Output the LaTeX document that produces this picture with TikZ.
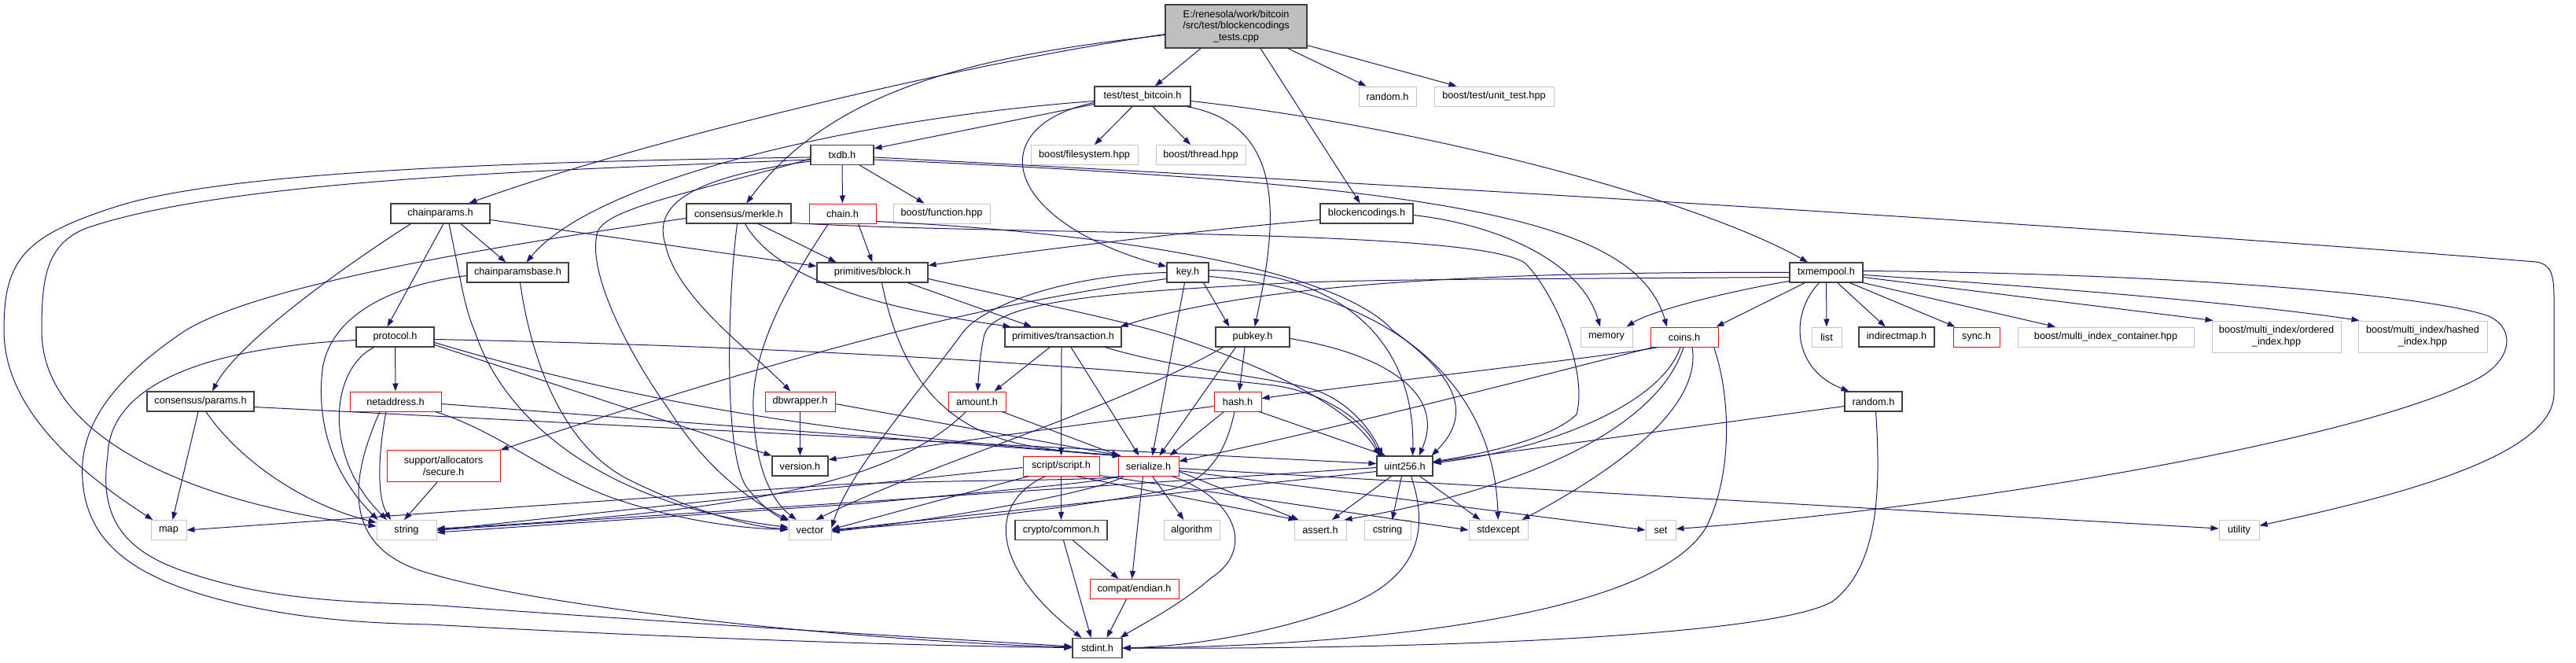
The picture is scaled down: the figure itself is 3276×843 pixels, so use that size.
\documentclass[tikz,border=0pt]{standalone}
\usepackage{fontspec}
\setmainfont{Liberation Sans}
\usetikzlibrary{arrows.meta,calc}
\definecolor{edgec}{HTML}{191970}
\definecolor{boxgray}{HTML}{C4C4C4}
\definecolor{boxdark}{HTML}{404040}
\definecolor{rootfill}{HTML}{BFBFBF}
\tikzset{
 bx/.style={rectangle, inner sep=0pt, minimum height=25pt, line width=1pt, fill=white, font=\fontsize{12.7}{14.6}\selectfont, align=center},
 nb/.style={bx, draw=boxdark, line width=1.2pt},
 gb/.style={bx, draw=boxgray},
 rb/.style={bx, draw=red},
 ed/.style={draw=edgec, line width=1pt, -{Triangle[length=10pt,width=7pt]}},
}
\begin{document}
\begin{tikzpicture}[x=1pt,y=-1pt]
\useasboundingbox (0,0) rectangle (3276,843);
% nodes
\node[nb, fill=rootfill, minimum width=180pt, minimum height=55pt] (root) at (1572,33.5) {E:/renesola/work/bitcoin\\/src/test/blockencodings\\\_tests.cpp};
\node[nb, minimum width=122pt] (tb) at (1453,122.5) {test/test\_bitcoin.h};
\node[gb, minimum width=73pt] (rnd1) at (1764.5,122.5) {random.h};
\node[gb, minimum width=152pt] (but) at (1900,122.5) {boost/test/unit\_test.hpp};
\node[gb, minimum width=136pt] (fs) at (1379,197) {boost/filesystem.hpp};
\node[gb, minimum width=114pt] (thr) at (1527,197) {boost/thread.hpp};
\node[nb, minimum width=80pt] (txdb) at (1071,197) {txdb.h};
\node[gb, minimum width=123pt] (bfun) at (1197.5,271.5) {boost/function.hpp};
\node[rb, minimum width=85pt] (chain) at (1071.5,271.5) {chain.h};
\node[nb, minimum width=126pt] (cp) at (560,271.5) {chainparams.h};
\node[nb, minimum width=133pt] (merkle) at (939.5,271.5) {consensus/merkle.h};
\node[nb, minimum width=118pt] (benc) at (1738,271.5) {blockencodings.h};
\node[nb, minimum width=129pt] (cpb) at (658.5,346.5) {chainparamsbase.h};
\node[nb, minimum width=141pt] (blk) at (1109.5,346.5) {primitives/block.h};
\node[nb, minimum width=53pt] (key) at (1510.5,346.5) {key.h};
\node[nb, minimum width=93pt] (txm) at (2322.5,346.5) {txmempool.h};
\node[nb, minimum width=99pt] (proto) at (502.5,428.5) {protocol.h};
\node[nb, minimum width=148pt] (tx) at (1352,428.5) {primitives/transaction.h};
\node[nb, minimum width=94pt] (pub) at (1593,428.5) {pubkey.h};
\node[gb, minimum width=66pt] (mem) at (2043,428.5) {memory};
\node[rb, minimum width=86pt] (coins) at (2142,428.5) {coins.h};
\node[gb, minimum width=38pt] (list) at (2323,428.5) {list};
\node[nb, minimum width=96pt] (imap) at (2412,428.5) {indirectmap.h};
\node[rb, minimum width=59pt] (sync) at (2513.5,428.5) {sync.h};
\node[gb, minimum width=224pt] (mic) at (2678,428.5) {boost/multi\_index\_container.hpp};
\node[gb, minimum width=164pt, minimum height=40pt] (moi) at (2895,428) {boost/multi\_index/ordered\\\_index.hpp};
\node[gb, minimum width=164pt, minimum height=40pt] (mhi) at (3081,428) {boost/multi\_index/hashed\\\_index.hpp};
\node[nb, minimum width=136pt] (cparams) at (255,510.5) {consensus/params.h};
\node[rb, minimum width=116pt] (netaddr) at (503,510.5) {netaddress.h};
\node[rb, minimum width=89pt] (dbw) at (1017.5,510.5) {dbwrapper.h};
\node[rb, minimum width=73pt] (amount) at (1242.5,510.5) {amount.h};
\node[rb, minimum width=60pt] (hash) at (1574,510.5) {hash.h};
\node[nb, minimum width=73pt] (rnd2) at (2382.5,510.5) {random.h};
\node[rb, minimum width=144pt, minimum height=40pt] (secure) at (564,592.7) {support/allocators\\/secure.h};
\node[nb, minimum width=71pt] (ver) at (1017.5,592.5) {version.h};
\node[rb, minimum width=97pt] (script) at (1349.5,592.5) {script/script.h};
\node[rb, minimum width=77pt] (ser) at (1460.5,592.5) {serialize.h};
\node[nb, minimum width=71pt] (u256) at (1786.5,592.5) {uint256.h};
\node[gb, minimum width=45pt] (map) at (214.5,674) {map};
\node[gb, minimum width=76pt] (string) at (517,674) {string};
\node[gb, minimum width=54pt] (vector) at (1030,674) {vector};
\node[nb, minimum width=117pt] (ccommon) at (1349.5,674) {crypto/common.h};
\node[gb, minimum width=71pt] (algo) at (1515.5,674) {algorithm};
\node[gb, minimum width=66pt] (assert) at (1679,674) {assert.h};
\node[gb, minimum width=59pt] (cstring) at (1764.5,674) {cstring};
\node[gb, minimum width=75pt] (stdexc) at (1905.5,674) {stdexcept};
\node[gb, minimum width=38pt] (set) at (2112,674) {set};
\node[gb, minimum width=51pt] (utility) at (2847.5,674) {utility};
\node[rb, minimum width=113pt] (endian) at (1442.5,749) {compat/endian.h};
\node[nb, minimum width=63pt] (stdint) at (1395.5,824) {stdint.h};
% root
\draw[ed] ($(root.south)+(-45,0)$) -- (tb);
\draw[ed] ($(root.west)+(0,11)$) .. controls (1250,70) and (1060,110) .. (merkle);
\draw[ed] ($(root.west)+(0,10)$) .. controls (1200,85) and (800,185) .. (cp);
\draw[ed] ($(root.south)+(31,0)$) -- (benc);
\draw[ed] ($(root.south)+(66,0)$) -- (rnd1);
\draw[ed] ($(root.south east)+(0,-4)$) -- (but);
% test_bitcoin
\draw[ed] ($(tb.west)+(0,10)$) -- (txdb);
\draw[ed] ($(tb.west)+(0,6)$) .. controls (1100,150) and (760,225) .. (cpb);
\draw[ed] ($(tb.west)+(0,8)$) .. controls (1250,160) and (1270,280) .. (key);
\draw[ed] ($(tb.south east)+(-5,0)$) .. controls (1645,160) and (1620,300) .. (pub);
\draw[ed] ($(tb.east)+(0,6)$) .. controls (1800,160) and (2150,250) .. (txm);
\draw[ed] (tb) -- (fs);
\draw[ed] (tb) -- (thr);
% txdb
\draw[ed] (txdb) -- (chain);
\draw[ed] (txdb) -- (bfun);
\draw[ed] ($(txdb.west)+(0,3)$) .. controls (700,205) and (300,215) .. (150,262) .. controls (30,300) and (5,330) .. (5,420) .. controls (5,520) and (100,600) .. (map);
\draw[ed] ($(txdb.west)+(0,6)$) .. controls (750,215) and (300,225) .. (110,290) .. controls (60,310) and (53,350) .. (53,420) .. controls (53,560) and (250,640) .. (string);
\draw[ed] ($(txdb.east)+(0,3)$) .. controls (1800,235) and (2700,290) .. (3225,333) .. controls (3245,336) and (3248,350) .. (3248,380) -- (3248,500) .. controls (3248,580) and (3050,630) .. (utility);
\draw[ed] ($(txdb.east)+(0,6)$) .. controls (1850,235) and (2080,280) .. ($(coins.north)+(-22,0)$);
\draw[ed] ($(txdb.west)+(0,8)$) .. controls (880,225) and (830,260) .. (846,310) .. controls (860,380) and (960,450) .. (dbw);
\draw[ed] ($(txdb.west)+(0,5)$) .. controls (880,245) and (770,265) .. (760,295) .. controls (745,345) and (800,450) .. (850,520) .. controls (900,600) and (960,640) .. (vector);
% chain
\draw[ed] ($(chain.south)+(20,0)$) -- (blk.north);
\draw[ed] ($(chain.south)+(-18,0)$) .. controls (1010,350) and (955,440) .. (958,520) .. controls (960,600) and (985,640) .. (vector);
\draw[ed] ($(chain.east)+(0,10)$) .. controls (1400,295) and (1700,340) .. (1771,420) .. controls (1840,470) and (1880,520) .. ($(u256.north east)+(-2,0)$);
% chainparams
\draw[ed] ($(cp.south)+(26,0)$) -- (cpb);
\draw[ed] ($(cp.south west)+(26,0)$) .. controls (420,350) and (300,440) .. ($(cparams.north)+(15,0)$);
\draw[ed] ($(cp.east)+(0,8)$) -- ($(blk.west)+(0,-8)$);
\draw[ed] ($(cp.south)+(4,0)$) -- ($(proto.north)+(-10,0)$);
\draw[ed] ($(cp.south)+(11,0)$) .. controls (585,350) and (590,390) .. (604,422) .. controls (640,530) and (760,640) .. (vector);
% merkle
\draw[ed] ($(merkle.south)+(25,0)$) -- ($(blk.north west)+(25,0)$);
\draw[ed] ($(merkle.south)+(8,0)$) .. controls (985,350) and (1100,390) .. ($(tx.north west)+(8,0)$);
\draw[ed] ($(merkle.east)+(0,12)$) .. controls (1300,300) and (1880,290) .. (1940,335) .. controls (1975,370) and (2020,470) .. (2005,527) .. controls (1970,560) and (1880,578) .. (u256);
\draw[ed] ($(merkle.south)+(-2,0)$) .. controls (925,380) and (920,580) .. (950,620) .. controls (970,645) and (985,655) .. (vector);
\draw[ed] ($(merkle.west)+(0,6)$) .. controls (650,310) and (330,360) .. (233,422) .. controls (140,485) and (100,545) .. (105,610) .. controls (110,690) and (170,730) .. (260,757) .. controls (350,783) and (440,792) .. (546,794) .. controls (800,808) and (1100,820) .. (stdint);
% blockencodings
\draw[ed] ($(benc.west)+(0,8)$) .. controls (1550,290) and (1300,320) .. ($(blk.east)+(0,-9)$);
\draw[ed] ($(benc.east)+(0,2)$) .. controls (1900,285) and (2010,330) .. ($(mem.north)+(-8,0)$);
% chainparamsbase
\draw[ed] ($(cpb.west)+(0,4)$) .. controls (500,362) and (420,400) .. (410,470) .. controls (400,560) and (440,620) .. ($(string.north west)+(2,0)$);
\draw[ed] ($(cpb.south)+(3,0)$) .. controls (670,420) and (700,560) .. (800,610) .. controls (870,645) and (950,670) .. (vector);
% block
\draw[ed] ($(blk.south)+(45,0)$) -- ($(tx.north)+(-40,0)$);
\draw[ed] ($(blk.south)+(12,0)$) .. controls (1140,450) and (1180,540) .. (1300,565) .. controls (1350,575) and (1400,578) .. ($(ser.north west)+(3,0)$);
\draw[ed] ($(blk.east)+(0,8)$) .. controls (1330,388) and (1440,410) .. (1500,430) .. controls (1620,470) and (1720,520) .. ($(u256.north west)+(4,0)$);
% key
\draw[ed] ($(key.south east)+(-7,0)$) -- ($(pub.north west)+(18,0)$);
\draw[ed] ($(key.south)+(-4,0)$) -- ($(ser.north)+(5,0)$);
\draw[ed] ($(key.east)+(0,-3)$) .. controls (1700,345) and (1800,430) .. ($(u256.north)+(10,0)$);
\draw[ed] ($(key.east)+(0,5)$) .. controls (1760,370) and (1900,480) .. (stdexc);
\draw[ed] (key.west) .. controls (1350,350) and (1250,390) .. (1225,422) .. controls (1160,510) and (1080,600) .. ($(vector.east)+(0,-3)$);
\draw[ed] ($(key.west)+(0,8)$) .. controls (1300,380) and (1100,420) .. (secure.north east);
% txmempool
\draw[ed] (txm.west) .. controls (1900,345) and (1600,360) .. ($(tx.north east)+(-2,0)$);
\draw[ed] ($(txm.west)+(0,6)$) .. controls (1900,355) and (1700,355) .. (1600,362) .. controls (1400,372) and (1265,385) .. (1252,425) .. controls (1248,440) and (1245,470) .. (amount);
\draw[ed] ($(txm.west)+(0,11)$) .. controls (2200,370) and (2100,395) .. ($(mem.north east)+(-8,0)$);
\draw[ed] ($(txm.south west)+(20,0)$) -- ($(coins.north east)+(-3,0)$);
\draw[ed] ($(txm.south)+(-9,0)$) .. controls (2275,400) and (2280,470) .. ($(rnd2.north west)+(6,0)$);
\draw[ed] (txm) -- (list);
\draw[ed] (txm) -- (imap);
\draw[ed] ($(txm.south)+(30,0)$) -- ($(sync.north west)+(3,0)$);
\draw[ed] (txm.south east) -- ($(mic.north)+(-64,0)$);
\draw[ed] ($(txm.east)+(0,6)$) -- ($(moi.north west)+(2,0)$);
\draw[ed] ($(txm.east)+(0,3)$) .. controls (2600,365) and (2850,385) .. ($(mhi.north west)+(2,0)$);
\draw[ed] ($(txm.east)+(0,-2)$) .. controls (2800,348) and (3100,378) .. (3165,402) .. controls (3200,418) and (3195,458) .. (3150,482) .. controls (3000,560) and (2500,645) .. (set);
% consensus/params
\draw[ed] ($(cparams.south)+(-3,0)$) -- ($(map.north)+(5,0)$);
\draw[ed] ($(cparams.south)+(7,0)$) .. controls (300,580) and (380,640) .. (string);
\draw[ed] ($(cparams.east)+(0,7)$) -- ($(u256.west)+(0,-3)$);
% protocol
\draw[ed] (proto) -- (netaddr);
\draw[ed] ($(proto.west)+(0,4)$) .. controls (300,440) and (140,475) .. (137,579) .. controls (125,660) and (160,700) .. (230,725) .. controls (330,760) and (420,765) .. (546,769) .. controls (900,795) and (1200,812) .. (stdint);
\draw[ed] ($(proto.south)+(-27,0)$) .. controls (420,470) and (410,580) .. ($(string.north)+(-25,0)$);
\draw[ed] ($(proto.east)+(0,10)$) -- (ver.north west);
\draw[ed] ($(proto.east)+(0,7)$) .. controls (900,540) and (1200,560) .. ($(ser.north west)+(4,0)$);
\draw[ed] ($(proto.east)+(0,3)$) .. controls (1000,440) and (1400,465) .. (1620,490) .. controls (1690,500) and (1740,540) .. ($(u256.north west)+(4,0)$);
% netaddress
\draw[ed] ($(netaddr.east)+(0,3)$) -- ($(ser.north west)+(4,0)$);
\draw[ed] ($(netaddr.south)+(-20,0)$) .. controls (440,620) and (440,700) .. (546,729) .. controls (700,775) and (1100,815) .. (stdint);
\draw[ed] ($(netaddr.south)+(-12,0)$) .. controls (482,570) and (478,630) .. ($(string.north)+(-20,0)$);
\draw[ed] ($(netaddr.south east)+(-8,0)$) .. controls (640,550) and (700,610) .. (800,640) .. controls (880,665) and (950,672) .. (vector);
% secure, dbwrapper
\draw[ed] ($(secure.south)+(-8,0)$) -- ($(string.north)+(-3,0)$);
\draw[ed] (dbw) -- (ver);
\draw[ed] ($(dbw.east)+(0,3)$) -- ($(ser.north west)+(4,0)$);
% transaction
\draw[ed] ($(tx.south)+(-17,0)$) -- ($(amount.north)+(22,0)$);
\draw[ed] ($(tx.south)+(-2,0)$) -- (script.north);
\draw[ed] ($(tx.south)+(10,0)$) -- ($(ser.north)+(-12,0)$);
\draw[ed] ($(tx.south east)+(-21,0)$) .. controls (1500,470) and (1620,480) .. (1670,495) .. controls (1710,508) and (1740,540) .. ($(u256.north west)+(8,0)$);
% pubkey
\draw[ed] ($(pub.south)+(-10,0)$) -- ($(hash.north)+(2,0)$);
\draw[ed] ($(pub.south west)+(26,0)$) -- ($(ser.north east)+(-25,0)$);
\draw[ed] ($(pub.east)+(0,2)$) .. controls (1760,450) and (1840,500) .. ($(u256.north)+(18,0)$);
\draw[ed] ($(pub.south west)+(10,0)$) .. controls (1420,520) and (1180,590) .. ($(vector.north east)+(-20,0)$);
% hash
\draw[ed] ($(hash.south west)+(13,0)$) -- ($(ser.north east)+(-12,0)$);
\draw[ed] ($(hash.west)+(0,6)$) -- ($(ver.east)+(0,-8)$);
\draw[ed] ($(hash.south east)+(-3,0)$) -- ($(u256.north west)+(12,0)$);
\draw[ed] ($(hash.south)+(-4,0)$) .. controls (1560,570) and (1540,610) .. (1490,622) .. controls (1350,650) and (1150,668) .. (vector.east);
% amount
\draw[ed] ($(amount.south east)+(-5,0)$) -- ($(ser.north west)+(2,0)$);
\draw[ed] ($(amount.south)+(-14,0)$) .. controls (1150,600) and (1000,650) .. (string);
% script
\draw[ed] (script) -- (ccommon);
\draw[ed] ($(script.south)+(-20,0)$) .. controls (1255,640) and (1260,720) .. ($(stdint.north west)+(12,0)$);
\draw[ed] ($(script.south east)+(0,-1)$) -- (stdexc.west);
\draw[ed] ($(script.south east)+(-30,0)$) -- ($(assert.north west)+(3,0)$);
\draw[ed] ($(script.west)+(0,2)$) -- (string.east);
\draw[ed] ($(script.south west)+(8,0)$) -- ($(vector.east)+(0,-1)$);
% serialize
\draw[ed] ($(ser.south)+(5,0)$) -- ($(algo.north)+(-10,0)$);
\draw[ed] ($(ser.south)+(-7,0)$) -- ($(endian.north)+(-3,0)$);
\draw[ed] ($(ser.south east)+(-9,0)$) .. controls (1575,635) and (1595,700) .. (1540,735) .. controls (1500,770) and (1450,795) .. ($(stdint.north east)+(-3,0)$);
\draw[ed] ($(ser.south west)+(5,0)$) .. controls (1380,612) and (1250,609) .. (1069,616) -- (map.east);
\draw[ed] ($(ser.south west)+(3,0)$) .. controls (1390,615) and (1250,625) .. (1100,640) -- ($(string.east)+(0,3)$);
\draw[ed] ($(ser.south west)+(8,0)$) .. controls (1400,625) and (1200,660) .. ($(vector.east)+(0,2)$);
\draw[ed] ($(ser.east)+(0,7)$) -- ($(assert.north west)+(6,0)$);
\draw[ed] ($(ser.east)+(0,6)$) -- (set.west);
\draw[ed] ($(ser.east)+(0,3)$) -- ($(utility.west)+(0,-2)$);
% crypto/common, endian
\draw[ed] ($(ccommon.south)+(15,0)$) -- ($(endian.north)+(-20,0)$);
\draw[ed] ($(ccommon.south)+(3,0)$) -- ($(stdint.north)+(-8,0)$);
\draw[ed] ($(endian.south)+(-10,0)$) -- ($(stdint.north)+(12,0)$);
% uint256
\draw[ed] ($(u256.south west)+(19,0)$) -- ($(assert.north)+(15,0)$);
\draw[ed] ($(u256.south)+(-4,0)$) -- ($(cstring.north)+(6,0)$);
\draw[ed] ($(u256.south east)+(-17,0)$) -- ($(stdexc.north west)+(15,0)$);
\draw[ed] ($(u256.south)+(8,0)$) .. controls (1820,680) and (1800,740) .. (1700,775) .. controls (1600,810) and (1500,822) .. (stdint.east);
\draw[ed] ($(u256.west)+(0,2)$) -- (string.east);
\draw[ed] ($(u256.west)+(0,7)$) -- (vector.east);
% coins
\draw[ed] ($(coins.south west)+(10,0)$) .. controls (2070,450) and (1800,480) .. ($(hash.east)+(0,-4)$);
\draw[ed] ($(coins.south west)+(4,0)$) .. controls (1950,480) and (1700,545) .. ($(ser.east)+(0,-6)$);
\draw[ed] ($(coins.south)+(-5,0)$) .. controls (2110,520) and (1950,575) .. (u256);
\draw[ed] ($(coins.south)+(-1,0)$) .. controls (2110,540) and (1950,620) .. ($(assert.north east)+(-3,0)$);
\draw[ed] ($(coins.south)+(10,0)$) .. controls (2165,520) and (2050,600) .. ($(stdexc.north east)+(-8,0)$);
\draw[ed] ($(coins.south east)+(-6,0)$) .. controls (2200,500) and (2205,600) .. (2170,670) .. controls (2100,790) and (1700,822) .. (stdint.east);
% random (2)
\draw[ed] ($(rnd2.west)+(0,6)$) -- (u256);
\draw[ed] ($(rnd2.south)+(3,0)$) .. controls (2392,620) and (2390,720) .. (2330,765) .. controls (2250,810) and (1800,826) .. (stdint.east);
\end{tikzpicture}
\end{document}
